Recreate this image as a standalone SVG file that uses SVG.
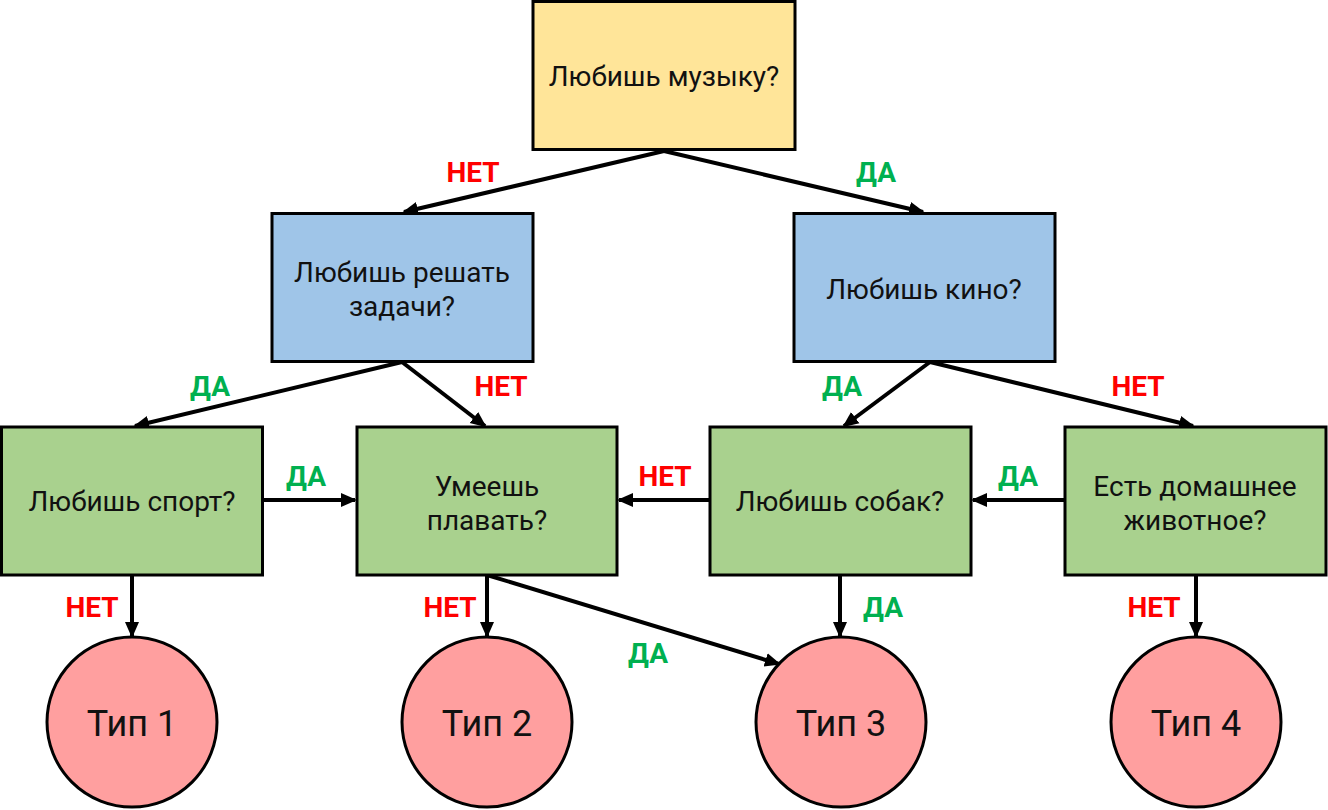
<svg xmlns="http://www.w3.org/2000/svg" width="1328" height="810" viewBox="0 0 1328 810">
<style>
.box{stroke:#000;stroke-width:3}
.y{fill:#ffe599}.b{fill:#9fc5e8}.g{fill:#a9d18e}.c{fill:#ff9f9f;stroke:#000;stroke-width:3}
.t{font-family:Roboto,"Liberation Sans",sans-serif;font-size:28px;fill:#111;text-anchor:middle}
.tc{font-family:Roboto,"Liberation Sans",sans-serif;font-size:36px;fill:#111;text-anchor:middle}
.e{stroke:#000;stroke-width:4;fill:none;marker-end:url(#ah)}
.no{font-family:Roboto,"Liberation Sans",sans-serif;font-weight:bold;font-size:28px;fill:#ff0000;text-anchor:middle}
.yes{font-family:Roboto,"Liberation Sans",sans-serif;font-weight:bold;font-size:28px;fill:#00b050;text-anchor:middle}
</style>
<defs>
<marker id="ah" markerUnits="userSpaceOnUse" markerWidth="16" markerHeight="16" viewBox="0 0 16 16" refX="14" refY="8" orient="auto">
<path d="M0,1 L16,8 L0,15 Z" fill="#000"/>
</marker>
</defs>
<rect width="1328" height="810" fill="#fff"/>
<g id="connectors">
<path class="e" d="M664,151 L404,212"/>
<path class="e" d="M664,151 L923,212"/>
<path class="e" d="M402,362 L135,426"/>
<path class="e" d="M402,362 L485,426"/>
<path class="e" d="M930,362 L844,426"/>
<path class="e" d="M930,362 L1193,426"/>
<path class="e" d="M263,500 L355,500"/>
<path class="e" d="M710,500 L619,500"/>
<path class="e" d="M1065,500 L973,500"/>
<path class="e" d="M132,575 L132,636"/>
<path class="e" d="M487,575 L487,636"/>
<path class="e" d="M487,575 L779,664"/>
<path class="e" d="M840,575 L840,636"/>
<path class="e" d="M1196,575 L1196,636"/>
<text class="no" x="473" y="182">НЕТ</text>
<text class="yes" x="876" y="182">ДА</text>
<text class="yes" x="210" y="396">ДА</text>
<text class="no" x="501" y="396">НЕТ</text>
<text class="yes" x="842" y="396">ДА</text>
<text class="no" x="1138" y="396">НЕТ</text>
<text class="yes" x="306" y="486">ДА</text>
<text class="no" x="665" y="486">НЕТ</text>
<text class="yes" x="1018" y="486">ДА</text>
<text class="no" x="92" y="617">НЕТ</text>
<text class="no" x="450" y="617">НЕТ</text>
<text class="yes" x="648" y="663">ДА</text>
<text class="yes" x="883" y="617">ДА</text>
<text class="no" x="1154" y="617">НЕТ</text>
</g>
<g id="n_music"><rect class="box y" x="533" y="1.5" width="262" height="148"/><text class="t" x="664" y="86">Любишь музыку?</text></g>
<g id="n_tasks"><rect class="box b" x="272" y="213.5" width="261" height="148"/><text class="t" x="402" y="282">Любишь решать</text><text class="t" x="402" y="316">задачи?</text></g>
<g id="n_cinema"><rect class="box b" x="794" y="213.5" width="261" height="148"/><text class="t" x="924" y="299">Любишь кино?</text></g>
<g id="n_sport"><rect class="box g" x="1.5" y="427" width="261" height="148"/><text class="t" x="132" y="511">Любишь спорт?</text></g>
<g id="n_swim"><rect class="box g" x="357" y="427" width="260" height="148"/><text class="t" x="487" y="496">Умеешь</text><text class="t" x="487" y="530">плавать?</text></g>
<g id="n_dogs"><rect class="box g" x="710" y="427" width="261" height="148"/><text class="t" x="840" y="511">Любишь собак?</text></g>
<g id="n_pet"><rect class="box g" x="1065" y="427" width="261" height="148"/><text class="t" x="1195" y="496">Есть домашнее</text><text class="t" x="1195" y="530">животное?</text></g>
<g id="n_t1"><circle class="c" cx="132" cy="722" r="85"/><text class="tc" x="132" y="736">Тип 1</text></g>
<g id="n_t2"><circle class="c" cx="487" cy="722" r="85"/><text class="tc" x="487" y="736">Тип 2</text></g>
<g id="n_t3"><circle class="c" cx="841" cy="722" r="85"/><text class="tc" x="841" y="736">Тип 3</text></g>
<g id="n_t4"><circle class="c" cx="1196" cy="722" r="85"/><text class="tc" x="1196" y="736">Тип 4</text></g>
</svg>
